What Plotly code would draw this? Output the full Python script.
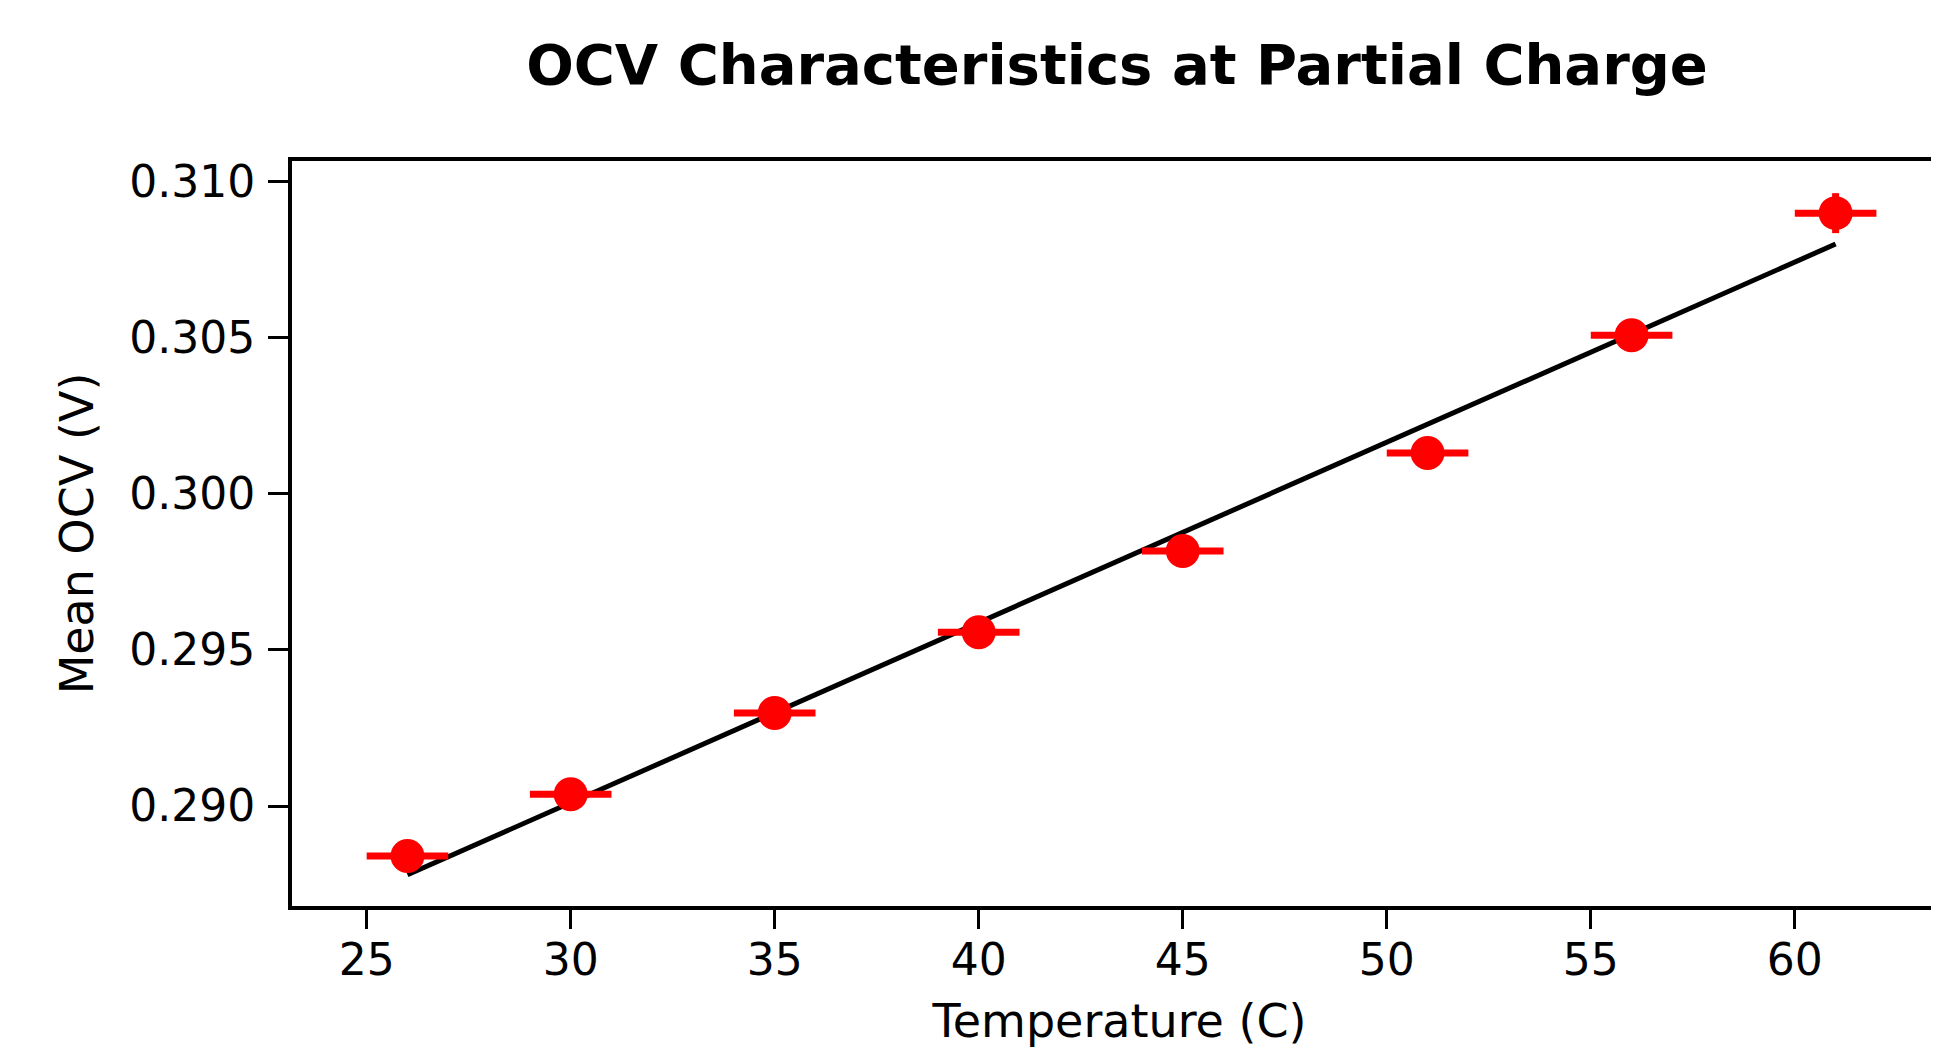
import plotly.graph_objects as go

# Data
temperature = [26, 30, 35, 40, 45, 51, 56, 61]
mean_ocv = [0.2884, 0.29038, 0.29298, 0.29557, 0.29817, 0.30131, 0.30508, 0.30899]
temp_err = [1, 1, 1, 1, 1, 1, 1, 1]
ocv_err = [0.0003, 0.0003, 0.0003, 0.0003, 0.0003, 0.0003, 0.0003, 0.00064]

fit_x = [26, 61]
fit_y = [0.2878, 0.3080]

x_ticks = [25, 30, 35, 40, 45, 50, 55, 60]
y_ticks = [0.290, 0.295, 0.300, 0.305, 0.310]
y_tick_text = ["0.290", "0.295", "0.300", "0.305", "0.310"]

FONT = "DejaVu Sans"

fig = go.Figure()

fig.add_trace(go.Scatter(
    x=fit_x, y=fit_y, mode="lines",
    line=dict(color="black", width=5),
    showlegend=False, hoverinfo="skip",
))

fig.add_trace(go.Scatter(
    x=temperature, y=mean_ocv, mode="markers",
    marker=dict(color="red", size=34, line=dict(width=0)),
    error_x=dict(type="data", array=temp_err, color="red", thickness=7, width=0),
    error_y=dict(type="data", array=ocv_err, color="red", thickness=7, width=0),
    showlegend=False,
))

fig.update_layout(
    width=1939, height=1051, autosize=False,
    margin=dict(l=284, r=0, t=153, b=153, pad=0),
    paper_bgcolor="white", plot_bgcolor="white",
    font=dict(family=FONT, color="black"),
    title=dict(
        text="OCV Characteristics at Partial Charge",
        font=dict(family=FONT, size=56, color="black", weight="bold"),
        x=1109 / 1939, xanchor="center", xref="container",
        y=1 - 56 / 1051, yanchor="middle", yref="container",
    ),
)

fig.update_xaxes(
    range=[23.17, 63.73],
    tickmode="array", tickvals=x_ticks,
    ticks="outside", ticklen=19, tickwidth=3, tickcolor="black",
    tickfont=dict(family=FONT, size=44, color="black"),
    ticklabelstandoff=-7,
    showline=True, linecolor="black", linewidth=4, mirror=True,
    showgrid=False, zeroline=False,
    title=dict(text="Temperature (C)", font=dict(family=FONT, size=46, color="black"), standoff=22),
)
fig.update_yaxes(
    range=[0.2868, 0.31066],
    tickmode="array", tickvals=y_ticks, ticktext=y_tick_text,
    ticks="outside", ticklen=20, tickwidth=3, tickcolor="black",
    tickfont=dict(family=FONT, size=44, color="black"),
    ticklabelstandoff=4,
    showline=True, linecolor="black", linewidth=4, mirror=False,
    showgrid=False, zeroline=False,
    title=dict(text="Mean OCV (V)", font=dict(family=FONT, size=46, color="black"), standoff=22),
)

fig.write_html("out.html")
